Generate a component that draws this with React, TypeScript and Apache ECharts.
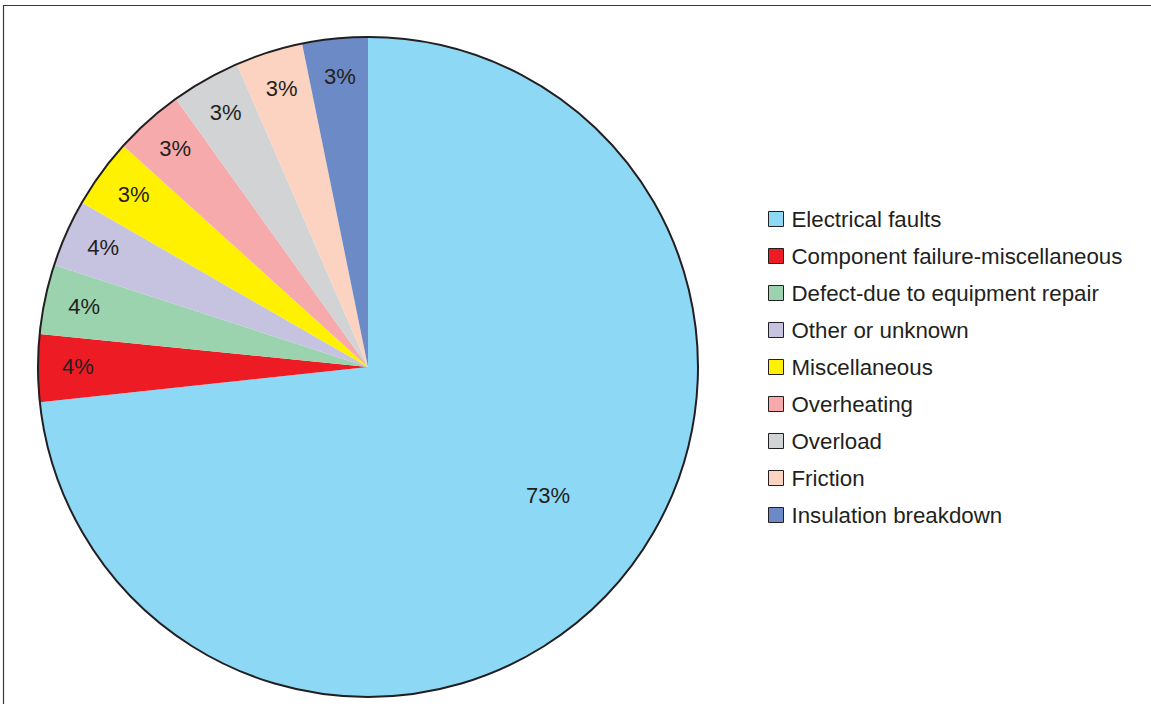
import React, { useEffect, useRef } from "react";
import * as echarts from "echarts";

const categories = [
  "Electrical faults",
  "Component failure-miscellaneous",
  "Defect-due to equipment repair",
  "Other or unknown",
  "Miscellaneous",
  "Overheating",
  "Overload",
  "Friction",
  "Insulation breakdown",
];
// slice sizes as drawn (percent)
const values = [73.3, 3.3, 3.4, 3.3, 3.4, 3.4, 3.4, 3.3, 3.2];
// percentages as printed on the slices
const printedLabels = ["73%", "4%", "4%", "4%", "3%", "3%", "3%", "3%", "3%"];
const colors = [
  "#8DD8F5",
  "#ED1C24",
  "#9AD3AE",
  "#C6C3E1",
  "#FFF100",
  "#F6AAAB",
  "#D1D3D4",
  "#FCD3C1",
  "#6B8AC6",
];

const FONT = "'Liberation Sans', Arial, Helvetica, sans-serif";
const TEXT = "#231F20";

export default function App() {
  const ref = useRef<HTMLDivElement>(null);
  useEffect(() => {
    if (!ref.current) return;
    const chart = echarts.init(ref.current, null, { renderer: "svg" });
    const center = [368, 367];
    const R = 330;
    const mainData = categories.map((name, i) => ({
      name,
      value: values[i],
      itemStyle: { color: colors[i] },
      label:
        i === 0
          ? { show: true, position: "inside", offset: [55, 16] }
          : { show: false },
    }));
    const ringData = categories.map((name, i) => ({
      name,
      value: values[i],
      label: { show: i !== 0 },
    }));
    chart.setOption({
      animation: false,
      backgroundColor: "#ffffff",
      graphic: [
        {
          type: "rect",
          shape: { x: 3.5, y: 5.5, width: 1300, height: 900 },
          style: { fill: "none", stroke: "#3a3a3a", lineWidth: 1.2 },
          silent: true,
          z: 100,
        },
      ],
      legend: {
        orient: "vertical",
        left: 768,
        top: 208,
        padding: 0,
        data: categories,
        icon: "rect",
        itemWidth: 15,
        itemHeight: 15,
        itemGap: 15,
        selectedMode: false,
        itemStyle: { borderColor: TEXT, borderWidth: 1 },
        textStyle: {
          fontFamily: FONT,
          fontSize: 22.3,
          lineHeight: 22,
          color: TEXT,
          padding: [0, 0, 0, 3],
        },
      },
      series: [
        {
          type: "pie",
          center,
          radius: R,
          startAngle: 90,
          clockwise: true,
          silent: true,
          avoidLabelOverlap: false,
          data: mainData,
          itemStyle: { borderWidth: 0 },
          label: {
            fontFamily: FONT,
            fontSize: 22,
            color: TEXT,
            formatter: (p: any) => printedLabels[p.dataIndex],
          },
          labelLine: { show: false },
        },
        {
          type: "pie",
          center,
          radius: [246, R],
          startAngle: 90,
          clockwise: true,
          silent: true,
          avoidLabelOverlap: false,
          data: ringData,
          itemStyle: { color: "rgba(0,0,0,0)", borderWidth: 0 },
          label: {
            position: "inside",
            offset: [1, -1],
            fontFamily: FONT,
            fontSize: 22,
            color: TEXT,
            formatter: (p: any) => printedLabels[p.dataIndex],
          },
          labelLine: { show: false },
          z: 3,
        },
        {
          type: "pie",
          center,
          radius: R,
          silent: true,
          data: [{ name: "outline", value: 1 }],
          itemStyle: { color: "none", borderColor: TEXT, borderWidth: 2 },
          label: { show: false },
          labelLine: { show: false },
          z: 4,
        },
      ],
    });
    return () => chart.dispose();
  }, []);
  return (
    <div
      ref={ref}
      style={{ position: "absolute", left: 0, top: 0, width: 1151, height: 704 }}
    />
  );
}
